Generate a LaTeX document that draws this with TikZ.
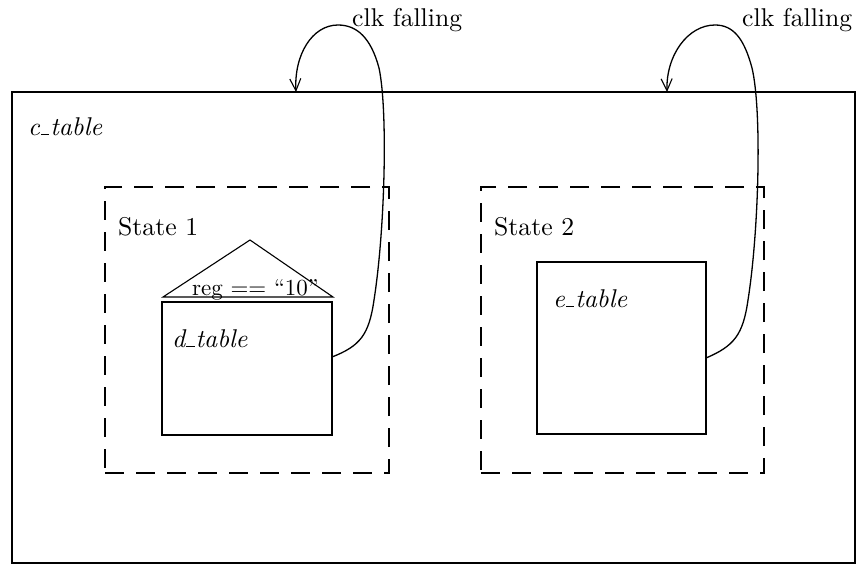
\documentclass[tikz,border=0pt]{standalone}
\usetikzlibrary{arrows.meta}
% short low bar used in the table names
\newcommand{\lowbar}{\kern0.4pt\rule{3.2pt}{0.55pt}\kern0.4pt}
\begin{document}
\begin{tikzpicture}[x=1pt,y=-1pt,
  txt/.style={anchor=base west, inner sep=0pt},
  tablebox/.style={draw, line width=1.1pt, inner sep=0pt, outer sep=0pt},
  statebox/.style={draw, line width=1.1pt, dash pattern=on 19pt off 12pt, inner sep=0pt, outer sep=0pt},
  outerbox/.style={draw, line width=2.6pt, inner sep=0pt, outer sep=0pt},
  clk/.style={line width=1.3pt, -{Straight Barb[length=12pt,width=11pt,line width=1.1pt]}}
]
\useasboundingbox (0,0) rectangle (858,571);

% outer table
\node[outerbox, minimum width=843pt, minimum height=471pt] (c) at (433.5,327.5) {};
\node[txt] (cl) at (28,135) {\scalebox{2.57}{\itshape c\lowbar table}};

% states
\node[statebox, minimum width=284pt, minimum height=286pt] (s1) at (247,330) {};
\node[statebox, minimum width=283pt, minimum height=286pt] (s2) at (622.5,330) {};
\node[txt] (s1l) at (118,235) {\scalebox{2.57}{State 1}};
\node[txt] (s2l) at (494,235) {\scalebox{2.57}{State 2}};

% inner tables
\node[tablebox, minimum width=170pt, minimum height=133pt] (d) at (247,368.5) {};
\node[tablebox, minimum width=169pt, minimum height=172pt] (e) at (621.5,348) {};
\node[txt] (dl) at (172,347) {\scalebox{2.57}{\itshape d\lowbar table}};
\node[txt] (el) at (553,307) {\scalebox{2.57}{\itshape e\lowbar table}};

% guard triangle on top of d_table
\draw[line width=1.1pt] (163,297) -- (250,240) -- (333,297) -- cycle;
\node[txt] (g) at (192,295) {\scalebox{2.3}{reg == ``10''}};

% clock arrows
\coordinate (d1) at (332,357);
\coordinate (t1) at (296,92);
\coordinate (e1) at (706,358);
\coordinate (t2) at (667,92);

\draw[clk] (d1) .. controls (360,346) and (369,335) .. (374,300)
  .. controls (385,230) and (388,110) .. (379,68)
  .. controls (371,38) and (357,25) .. (338,25)
  .. controls (312,25) and (294,55) .. (t1);
\draw[clk] (e1) .. controls (734,346) and (743,335) .. (748,300)
  .. controls (759,230) and (762,110) .. (752,68)
  .. controls (744,38) and (733,25) .. (715,25)
  .. controls (688,25) and (666,55) .. (t2);

\node[txt] (clk1) at (352,26) {\scalebox{2.57}{clk falling}};
\node[txt] (clk2) at (742,26) {\scalebox{2.57}{clk falling}};
\end{tikzpicture}
\end{document}
